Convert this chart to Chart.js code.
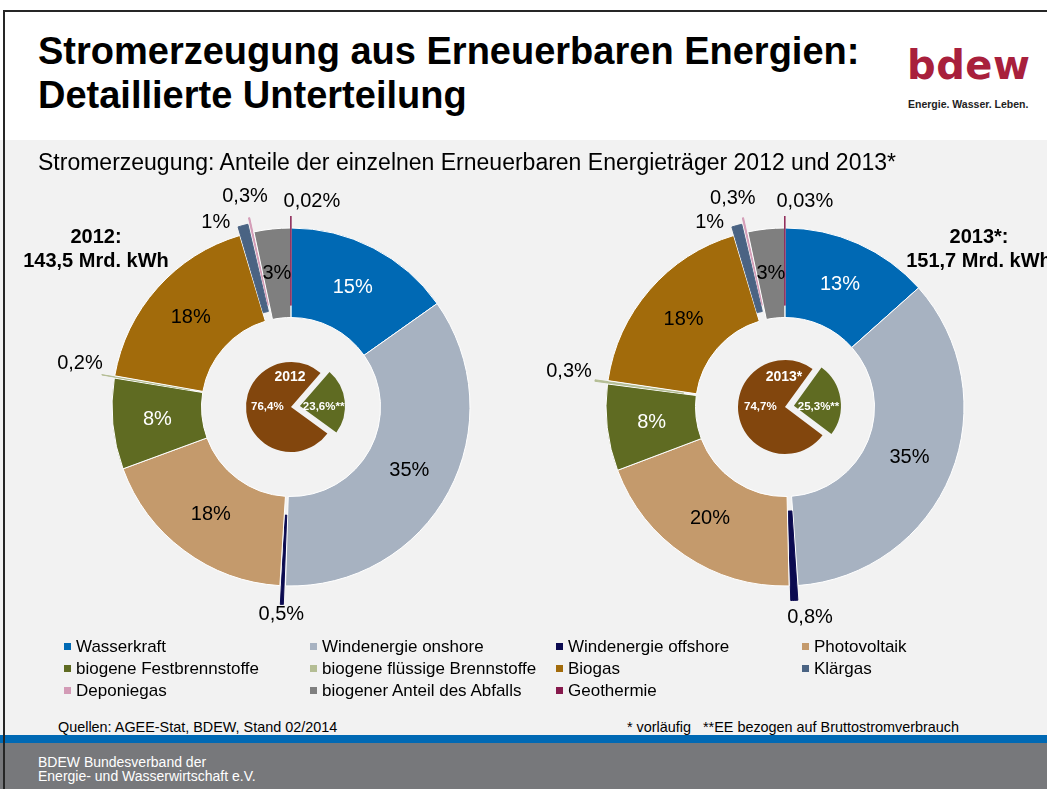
<!DOCTYPE html>
<html lang="de">
<head>
<meta charset="utf-8">
<title>Stromerzeugung aus Erneuerbaren Energien</title>
<script src="https://cdn.jsdelivr.net/npm/chart.js@4.4.1/dist/chart.umd.min.js"></script>
<style>
    html, body { margin: 0; padding: 0; }
    body {
        width: 1047px; height: 789px; overflow: hidden; position: relative;
        background: #ffffff; font-family: "Liberation Sans", Arial, sans-serif; color: #000;
    }
    .abs { position: absolute; white-space: nowrap; }
    #panel { position: absolute; left: 0; top: 140px; width: 1047px; height: 595px; background: #f2f2f2; }
    #frameTop { position: absolute; left: 3px; top: 10px; width: 1044px; height: 2px; background: #262626; }
    #frameLeft { position: absolute; left: 3px; top: 10px; width: 2px; height: 779px; background: #262626; }
    #blueBar { position: absolute; left: 0; top: 735px; width: 1047px; height: 8px; background: #0069b4; }
    #footer { position: absolute; left: 0; top: 743px; width: 1047px; height: 46px; background: #77787b; }
    .title { font-weight: bold; font-size: 38px; line-height: 38px; left: 38px; }
    .legend-item { position: absolute; font-size: 17px; line-height: 17px; white-space: nowrap; }
    .legend-box { position: absolute; width: 7px; height: 7px; }
    canvas { position: absolute; }
</style>
</head>
<body>
<div id="panel"></div>
<div id="blueBar"></div>
<div id="footer"></div>

<canvas id="outer2012" width="480" height="480" style="left:51px; top:167px;"></canvas>
<canvas id="inner2012" width="130" height="130" style="left:226px; top:342px;"></canvas>
<canvas id="outer2013" width="480" height="480" style="left:545px; top:167px;"></canvas>
<canvas id="inner2013" width="130" height="130" style="left:720px; top:342px;"></canvas>

<div id="frameTop"></div>
<div id="frameLeft"></div>

<div class="abs title" style="top:32px;">Stromerzeugung aus Erneuerbaren Energien:</div>
<div class="abs title" style="top:76px;">Detaillierte Unterteilung</div>

<div class="abs" style="left:907px; top:45px; font-family:'DejaVu Sans'; font-weight:bold; font-size:40px; line-height:40px; color:#a8203c; letter-spacing:0.5px;">bdew</div>
<div class="abs" style="left:908px; top:99px; font-weight:bold; font-size:10.5px; line-height:11px; color:#222;">Energie. Wasser. Leben.</div>

<div class="abs" style="left:38px; top:151px; font-size:23px; line-height:23px;">Stromerzeugung: Anteile der einzelnen Erneuerbaren Energieträger 2012 und 2013*</div>

<div class="abs" id="year2012" style="left:0; width:192px; top:224px; text-align:center; font-weight:bold; font-size:20px; line-height:24px;"></div>
<div class="abs" id="year2013" style="left:879px; width:200px; top:224px; text-align:center; font-weight:bold; font-size:20px; line-height:24px;"></div>

<div id="legend"></div>

<div class="abs" style="left:58px; top:720px; font-size:14.4px; line-height:14px;">Quellen: AGEE-Stat, BDEW, Stand 02/2014</div>
<div class="abs" style="left:627px; top:720px; font-size:14.4px; line-height:14px;">* vorläufig&nbsp;&nbsp;&nbsp;**EE bezogen auf Bruttostromverbrauch</div>
<div class="abs" style="left:38px; top:755px; font-size:14px; line-height:14px; color:#fff;">BDEW Bundesverband der<br>Energie- und Wasserwirtschaft e.V.</div>

<script>
// Energy sources, in the order they run clockwise from 12 o'clock
const categories = [
    'Wasserkraft', 'Windenergie onshore', 'Windenergie offshore', 'Photovoltaik',
    'biogene Festbrennstoffe', 'biogene flüssige Brennstoffe', 'Biogas', 'Klärgas',
    'Deponiegas', 'biogener Anteil des Abfalls', 'Geothermie'
];

// Shares of renewable generation, %
const shares2012 = [15.2, 35.3, 0.5, 18.4, 8.2, 0.2, 17.6, 1.0, 0.3, 3.3, 0.02];
const shares2013 = [13.4, 35.4, 0.8, 19.6, 7.8, 0.3, 18.0, 1.0, 0.3, 3.3, 0.03];

// Inner pie: other sources vs. renewables (EE) of gross consumption, %
const eeLabels = ['Sonstige', 'Erneuerbare'];
const eeShare2012 = [76.4, 23.6];
const eeShare2013 = [74.7, 25.3];

const years = ['2012', '2013*'];
const totals = ['143,5', '151,7'];

// Styling
const sourceColors = [
    '#0069b4', '#a7b2c1', '#0b0a50', '#c49a6c',
    '#5f6b22', '#b4bd94', '#a26b0b', '#4a6383',
    '#d39bb6', '#7f7f7f', '#86194c'
];
const labelColors = ['#fff', '#000', '#000', '#000', '#fff', '#000', '#000', '#000', '#000', '#000', '#000'];
const eeColors = ['#82460d', '#5f6b22'];
const FONT = '"Liberation Sans", Arial, sans-serif';

const fmtShare = v => (v >= 1 ? Math.round(v) : String(v).replace('.', ',')) + '%';

// labels inside the ring, or outside for the small exploded pieces
const ringLabels = {
    id: 'ringLabels',
    afterDatasetsDraw(chart, args, opts) {
        const ctx = chart.ctx;
        const meta = chart.getDatasetMeta(0);
        const values = chart.data.datasets[0].data;
        ctx.save();
        ctx.font = '20px ' + FONT;
        ctx.textAlign = 'center';
        ctx.textBaseline = 'middle';
        meta.data.forEach((arc, i) => {
            const mid = (arc.startAngle + arc.endAngle) / 2;
            let x, y;
            if (values[i] < 2) {
                const nudge = opts.nudges[i] || [0, 0];
                x = arc.x + Math.cos(mid) * opts.labelRadius + nudge[0];
                y = arc.y + Math.sin(mid) * opts.labelRadius + nudge[1];
            } else {
                const r = (arc.innerRadius + arc.outerRadius) / 2;
                x = arc.x + Math.cos(mid) * r;
                y = arc.y + Math.sin(mid) * r;
            }
            ctx.fillStyle = labelColors[i];
            ctx.fillText(fmtShare(values[i]), x, y);
        });
        ctx.restore();
    }
};

// year and the two shares, written level across the small pie
const pieLabels = {
    id: 'pieLabels',
    afterDatasetsDraw(chart, args, opts) {
        const ctx = chart.ctx;
        const meta = chart.getDatasetMeta(0);
        const values = chart.data.datasets[0].data;
        const first = meta.data[0];
        ctx.save();
        ctx.fillStyle = '#fff';
        ctx.textAlign = 'center';
        ctx.textBaseline = 'middle';
        ctx.font = 'bold 14px ' + FONT;
        ctx.fillText(opts.year, first.x - 1, first.y - 30);
        ctx.font = 'bold 11.5px ' + FONT;
        meta.data.forEach((arc, i) => {
            const mid = (arc.startAngle + arc.endAngle) / 2;
            const r = arc.outerRadius * 0.53 + (arc.options.offset || 0) / 4;
            const text = String(values[i]).replace('.', ',') + '%' + (i === 1 ? '**' : '');
            ctx.fillText(text, arc.x + Math.cos(mid) * r, arc.y);
        });
        ctx.restore();
    }
};

function drawRing(id, shares, offsets, nudges) {
    const ctx = document.getElementById(id).getContext('2d');
    return new Chart(ctx, {
        type: 'doughnut',
        data: {
            labels: categories,
            datasets: [{
                data: shares,
                backgroundColor: sourceColors,
                borderColor: shares.map((v, i) => v < 2 ? sourceColors[i] : '#ffffff'),
                borderWidth: 1,
                offset: offsets
            }]
        },
        options: {
            responsive: false,
            animation: false,
            events: [],
            radius: 179,
            cutout: '50%',
            rotation: 0,
            layout: { padding: 0 },
            plugins: {
                legend: { display: false },
                tooltip: { enabled: false },
                ringLabels: { labelRadius: 208, nudges: nudges }
            }
        },
        plugins: [ringLabels]
    });
}

function drawPie(id, shares, rotation, radius, year) {
    const ctx = document.getElementById(id).getContext('2d');
    return new Chart(ctx, {
        type: 'pie',
        data: {
            labels: eeLabels,
            datasets: [{
                data: shares,
                backgroundColor: eeColors,
                borderWidth: 0,
                offset: [0, 36]
            }]
        },
        options: {
            responsive: false,
            animation: false,
            events: [],
            radius: radius,
            rotation: rotation,
            layout: { padding: 0 },
            plugins: {
                legend: { display: false },
                tooltip: { enabled: false },
                pieLabels: { year: year }
            }
        },
        plugins: [pieLabels]
    });
}

drawRing('outer2012', shares2012,
    [0, 0, 38, 0, 0, 26, 0, 18, 30, 0, 24],
    [null, null, [0, 0], null, null, [-6, -9], null, [-22, 17], [-1, -7], null, [21, 2]]);
drawRing('outer2013', shares2013,
    [0, 0, 30, 0, 0, 26, 0, 18, 30, 0, 24],
    [null, null, [15, 3], null, null, [-10, -7], null, [-22, 17], [-7, -5], null, [20, 2]]);

drawPie('inner2012', eeShare2012, 126, 45, years[0]);
drawPie('inner2013', eeShare2013, 127, 47, years[1]);

document.getElementById('year2012').innerHTML = years[0] + ':<br>' + totals[0] + ' Mrd. kWh';
document.getElementById('year2013').innerHTML = years[1] + ':<br>' + totals[1] + ' Mrd. kWh';

// Legend: four columns, filled row by row
const legend = document.getElementById('legend');
const colX = [76, 322, 568, 814];
categories.forEach((name, i) => {
    const col = i % 4, row = Math.floor(i / 4);
    const top = 638 + row * 22;
    const box = document.createElement('div');
    box.className = 'legend-box';
    box.style.left = (colX[col] - 12) + 'px';
    box.style.top = (top + 5) + 'px';
    box.style.background = sourceColors[i];
    legend.appendChild(box);
    const item = document.createElement('div');
    item.className = 'legend-item';
    item.style.left = colX[col] + 'px';
    item.style.top = top + 'px';
    item.textContent = name;
    legend.appendChild(item);
});
</script>
</body>
</html>
